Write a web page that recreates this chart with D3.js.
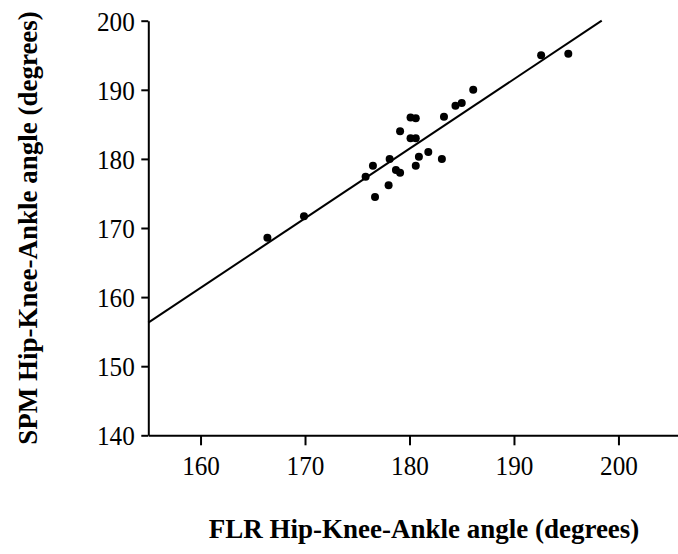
<!DOCTYPE html>
<html>
<head>
<meta charset="utf-8">
<script src="https://cdn.jsdelivr.net/npm/d3@7"></script>
<style>
  html, body { margin: 0; padding: 0; background: #fff; }
  svg { display: block; }
</style>
</head>
<body>
<svg id="chart" width="678" height="554"></svg>
<script>
// Data
const flr = [166.4, 169.9, 175.8, 176.5, 176.7, 178.0, 178.1, 178.7, 179.1, 179.1,
             180.1, 180.6, 180.1, 180.6, 180.6, 180.9, 181.8, 183.1, 183.3, 184.4,
             185.0, 186.1, 192.6, 195.2];
const spm = [168.6, 171.7, 177.4, 179.0, 174.5, 176.2, 180.0, 178.4, 178.0, 184.0,
             186.0, 185.9, 183.0, 183.0, 179.0, 180.3, 181.0, 180.0, 186.1, 187.7,
             188.1, 190.0, 195.0, 195.2];
const fitX = [155, 198.4];
const fitY = [156.3, 200];
const xTicks = [160, 170, 180, 190, 200];
const yTicks = [140, 150, 160, 170, 180, 190, 200];
const xTitle = "FLR Hip-Knee-Ankle angle (degrees)";
const yTitle = "SPM Hip-Knee-Ankle angle (degrees)";

const svg = d3.select("#chart");
const x = d3.scaleLinear().domain([155, 205.7]).range([148.3, 678]);
const y = d3.scaleLinear().domain([140, 200]).range([435.3, 20.7]);

const font = "'Liberation Serif', 'Times New Roman', serif";

// X axis
const xAxis = svg.append("g")
  .attr("transform", `translate(0,${y(140)})`)
  .call(d3.axisBottom(x).tickValues(xTicks).tickSize(10).tickPadding(10).tickSizeOuter(0));
// Y axis
const yAxis = svg.append("g")
  .attr("transform", `translate(${x(155)},0)`)
  .call(d3.axisLeft(y).tickValues(yTicks).tickSize(7).tickPadding(8).tickSizeOuter(0));

[xAxis, yAxis].forEach(g => {
  g.select(".domain").attr("stroke", "#000").attr("stroke-width", 2);
  g.selectAll(".tick line").attr("stroke", "#000").attr("stroke-width", 2);
  g.selectAll(".tick text")
    .attr("fill", "#000")
    .style("font-family", font)
    .style("font-size", "28px")
    .attr("transform", "scale(0.9,1)");
});
yAxis.selectAll(".tick text").attr("dy", "0.34em");

// Regression line
svg.append("line")
  .attr("x1", x(fitX[0])).attr("y1", y(fitY[0]))
  .attr("x2", x(fitX[1])).attr("y2", y(fitY[1]))
  .attr("stroke", "#000").attr("stroke-width", 2);

// Points
svg.append("g").selectAll("circle")
  .data(flr.map((v, i) => [v, spm[i]]))
  .join("circle")
  .attr("cx", d => x(d[0]))
  .attr("cy", d => y(d[1]))
  .attr("r", 4)
  .attr("fill", "#000");

// Titles
svg.append("text")
  .attr("x", 424).attr("y", 538)
  .attr("text-anchor", "middle")
  .style("font-family", font)
  .style("font-weight", "bold")
  .style("font-size", "27px")
  .text(xTitle);

svg.append("text")
  .attr("transform", `translate(37,228) rotate(-90)`)
  .attr("text-anchor", "middle")
  .style("font-family", font)
  .style("font-weight", "bold")
  .style("font-size", "27px")
  .text(yTitle);
</script>
</body>
</html>
